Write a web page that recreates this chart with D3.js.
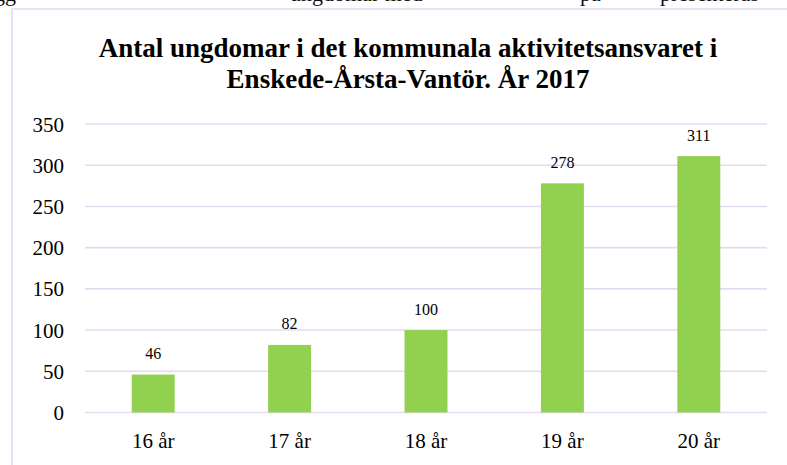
<!DOCTYPE html>
<html><head><meta charset="utf-8">
<script src="https://cdn.jsdelivr.net/npm/d3@7"></script>
<style>html,body{margin:0;padding:0;background:#fff;overflow:hidden}</style>
</head><body>
<svg id="c" width="787" height="465"></svg>
<script>
const categories = ["16 år","17 år","18 år","19 år","20 år"];
const values = [46, 82, 100, 278, 311];
const yTicks = [0,50,100,150,200,250,300,350];
const titleLines = ["Antal ungdomar i det kommunala aktivitetsansvaret i","Enskede-Årsta-Vantör. År 2017"];

const svg = d3.select("#c");
const font = "'Liberation Serif','Times New Roman',serif";

// clipped document text above the chart frame (only descenders visible)
const topWords = [["lägg",-22],["ungdomar med",290],["på",580],["presenteras",660]];
svg.selectAll("text.doc").data(topWords).join("text").attr("class","doc")
  .attr("x",d=>d[1]).attr("y",0.8).attr("font-family",font).attr("font-size",22)
  .attr("fill","#111").text(d=>d[0]);

// chart frame
svg.append("rect").attr("x",12).attr("y",9).attr("width",800).attr("height",480)
  .attr("fill","#fff").attr("stroke","#e2d9ee").attr("stroke-width",1.5);

const x = d3.scaleBand().domain(categories).range([85,767]).paddingInner(0.685).paddingOuter(0.3425);
const y = d3.scaleLinear().domain([0,350]).range([412.5,124]);

// gridlines
svg.append("g").selectAll("line").data(yTicks).join("line")
  .attr("x1",85).attr("x2",767).attr("y1",d=>y(d)).attr("y2",d=>y(d))
  .attr("stroke","#e6daf2").attr("stroke-width",1.6);

// y axis labels
const yAxis = d3.axisLeft(y).tickValues(yTicks).tickSize(0).tickPadding(0);
const ga = svg.append("g").attr("transform","translate(64,0)").call(yAxis);
ga.select(".domain").remove();
ga.selectAll("text").attr("font-family",font).attr("font-size",21).attr("fill","#000").attr("dy","0.34em");

// x axis labels
const xAxis = d3.axisBottom(x).tickSize(0).tickPadding(0);
const gx = svg.append("g").attr("transform","translate(0,433)").call(xAxis);
gx.select(".domain").remove();
gx.selectAll("text").attr("font-family",font).attr("font-size",21).attr("fill","#000").attr("dy","0.72em");

// bars
svg.append("g").selectAll("rect").data(values).join("rect")
  .attr("x",(d,i)=>x(categories[i])).attr("width",x.bandwidth())
  .attr("y",d=>y(d)).attr("height",d=>y(0)-y(d)).attr("fill","#92d050");

// value labels
svg.append("g").selectAll("text").data(values).join("text")
  .attr("x",(d,i)=>x(categories[i])+x.bandwidth()/2).attr("y",d=>y(d)-15.5)
  .attr("text-anchor","middle").attr("font-family",font).attr("font-size",16).attr("fill","#000")
  .text(d=>d);

// title
svg.append("g").selectAll("text").data(titleLines).join("text")
  .attr("x",408).attr("y",(d,i)=>57+i*31).attr("text-anchor","middle")
  .attr("font-family",font).attr("font-size",27).attr("font-weight","bold").attr("fill","#000")
  .text(d=>d);
</script>
</body></html>
